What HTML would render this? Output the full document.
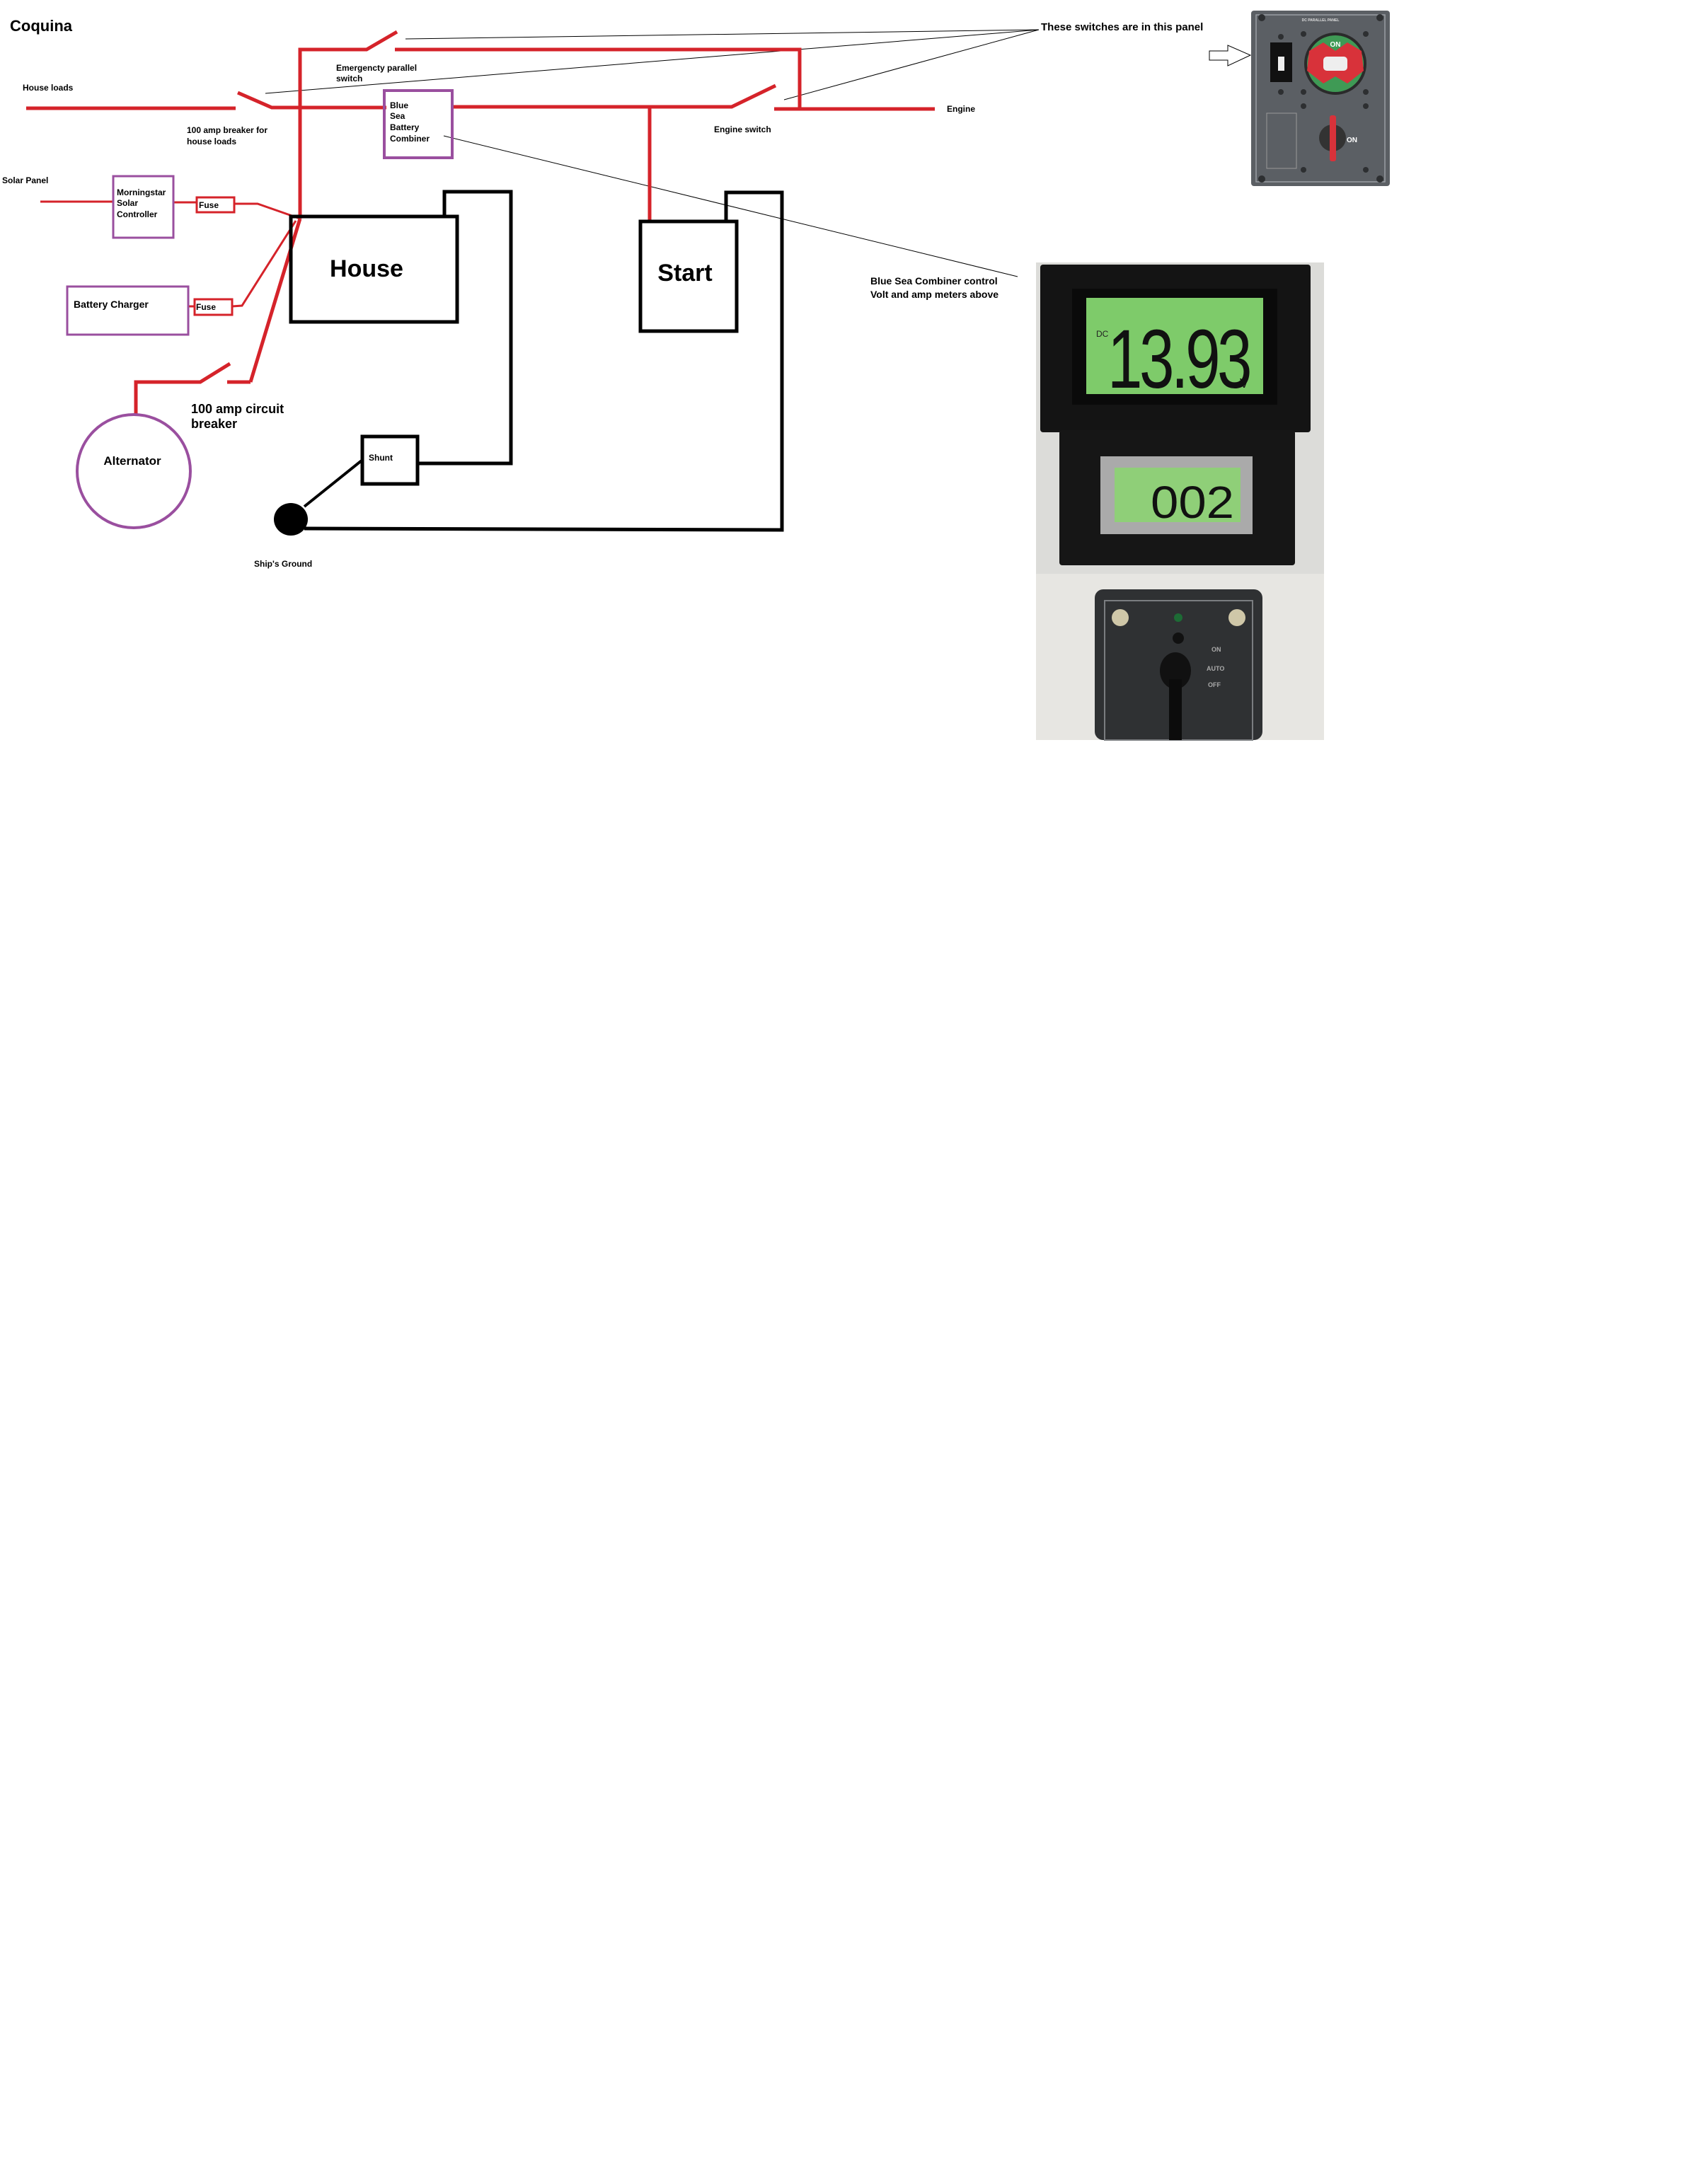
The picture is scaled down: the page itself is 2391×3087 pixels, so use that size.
<!DOCTYPE html>
<html><head><meta charset="utf-8"><style>
html,body{margin:0;padding:0;background:#fff;}
svg{display:block;}
text{font-family:"Liberation Sans",Arial,sans-serif;font-weight:bold;fill:#000;}
</style></head><body>
<svg width="2391" height="3087" viewBox="0 0 2391 3087" xmlns="http://www.w3.org/2000/svg">
<rect width="2391" height="3087" fill="#fff"/>
<text x="14" y="44" font-size="22">Coquina</text>

<!-- thin black pointer lines -->
<g stroke="#000" stroke-width="1" fill="none">
<line x1="573" y1="55" x2="1468" y2="42"/>
<line x1="375" y1="132" x2="1468" y2="42"/>
<line x1="1108" y1="141" x2="1468" y2="42"/>
<line x1="627" y1="192" x2="1438" y2="391"/>
</g>

<!-- red wires -->
<g stroke="#d5232a" stroke-width="5" fill="none" stroke-linecap="butt">
<polyline points="424,309 424,70 518,70 561,45"/>
<polyline points="558,70 1130,70 1130,154"/>
<line x1="37" y1="153" x2="333" y2="153"/>
<polyline points="336,131 384,152 546,152"/>
<polyline points="639,151 1034,151 1096,121"/>
<line x1="918" y1="151" x2="918" y2="313"/>
<line x1="1094" y1="154" x2="1321" y2="154"/>
<line x1="424" y1="309" x2="354" y2="540"/>
<polyline points="192,588 192,540 283,540 325,514"/>
<line x1="321" y1="540" x2="354" y2="540"/>
</g>
<g stroke="#d5232a" stroke-width="3" fill="none">
<line x1="57" y1="285" x2="160" y2="285"/>
<line x1="245" y1="286" x2="278" y2="286"/>
<polyline points="331,288 364,288 424,309"/>
<line x1="266" y1="433" x2="275" y2="433"/>
<polyline points="328,433 342,432 418,312"/>
<rect x="278" y="279" width="53" height="21"/>
<rect x="275" y="423" width="53" height="22"/>
</g>

<!-- purple boxes -->
<g stroke="#9a4f9f" stroke-width="4" fill="none">
<rect x="543" y="128" width="96" height="95"/>
<rect x="160" y="249" width="85" height="87" stroke-width="3"/>
<rect x="95" y="405" width="171" height="68" stroke-width="3"/>
<circle cx="189" cy="666" r="80"/>
</g>

<!-- black wiring -->
<g stroke="#000" stroke-width="5" fill="none">
<rect x="411" y="306" width="235" height="149"/>
<polyline points="628,306 628,271 722,271 722,655 590,655"/>
<rect x="512" y="617" width="78" height="67"/>
<rect x="905" y="313" width="136" height="155"/>
<polyline points="1026,313 1026,272 1105,272 1105,749 430,747"/>
<line x1="430" y1="716" x2="511" y2="651" stroke-width="4"/>
</g>
<ellipse cx="411" cy="734" rx="24" ry="23" fill="#000"/>

<!-- labels -->
<g font-size="12">
<text x="475" y="100">Emergencty parallel</text>
<text x="475" y="115">switch</text>
<text x="32" y="128">House loads</text>
<text x="264" y="188">100 amp breaker for</text>
<text x="264" y="204">house loads</text>
<text x="551" y="153">Blue</text>
<text x="551" y="168">Sea</text>
<text x="551" y="184">Battery</text>
<text x="551" y="200">Combiner</text>
<text x="1009" y="187">Engine switch</text>
<text x="1338" y="158">Engine</text>
<text x="3" y="259">Solar Panel</text>
<text x="165" y="276">Morningstar</text>
<text x="165" y="291">Solar</text>
<text x="165" y="307">Controller</text>
<text x="281" y="294">Fuse</text>
<text x="277" y="438">Fuse</text>
<text x="359" y="801">Ship's Ground</text>
<text x="521" y="651">Shunt</text>
</g>
<text x="104" y="435" font-size="14">Battery Charger</text>
<text x="518" y="391" font-size="34" text-anchor="middle">House</text>
<text x="968" y="397" font-size="34" text-anchor="middle">Start</text>
<text x="187" y="657" font-size="17" text-anchor="middle">Alternator</text>
<text x="270" y="584" font-size="18">100 amp circuit</text>
<text x="270" y="605" font-size="18">breaker</text>
<text x="1230" y="402" font-size="14">Blue Sea Combiner control</text>
<text x="1230" y="421" font-size="14">Volt and amp meters above</text>
<text x="1471" y="43" font-size="15">These switches are in this panel</text>

<!-- hollow arrow -->
<polygon points="1709,72 1735,72 1735,64 1767,78 1735,93 1735,85 1709,85" fill="#fff" stroke="#000" stroke-width="1"/>

<!-- Blue Sea panel -->
<rect x="1768" y="15" width="196" height="248" rx="4" fill="#5b5f64"/>
<rect x="1775" y="21" width="182" height="236" fill="none" stroke="#9a9ea3" stroke-width="1.5"/>
<text x="1866" y="30" font-size="5" fill="#ddd" style="fill:#ddd" text-anchor="middle">DC PARALLEL PANEL</text>
<rect x="1795" y="60" width="31" height="56" fill="#111"/>
<rect x="1806" y="80" width="9" height="20" fill="#eee"/>
<circle cx="1887" cy="90" r="44" fill="#2a2a2a"/>
<circle cx="1887" cy="90" r="40" fill="#3f9a55"/>
<path d="M1850,72 L1870,60 L1887,72 L1904,60 L1924,72 L1927,100 L1904,118 L1887,108 L1870,118 L1847,100 Z" fill="#d8323a"/>
<rect x="1870" y="80" width="34" height="20" rx="5" fill="#eee"/>
<text x="1887" y="66" font-size="10" style="fill:#fff" text-anchor="middle">ON</text>
<circle cx="1883" cy="195" r="19" fill="#333"/>
<rect x="1879" y="163" width="9" height="65" rx="3" fill="#d8323a"/>
<text x="1903" y="201" font-size="10" style="fill:#fff">ON</text>
<rect x="1790" y="160" width="42" height="78" fill="none" stroke="#999" stroke-width="1"/>
<g fill="#2d2f31">
<circle cx="1783" cy="25" r="5"/><circle cx="1950" cy="25" r="5"/>
<circle cx="1783" cy="253" r="5"/><circle cx="1950" cy="253" r="5"/>
<circle cx="1842" cy="48" r="4"/><circle cx="1930" cy="48" r="4"/>
<circle cx="1842" cy="130" r="4"/><circle cx="1930" cy="130" r="4"/>
<circle cx="1842" cy="150" r="4"/><circle cx="1930" cy="150" r="4"/>
<circle cx="1842" cy="240" r="4"/><circle cx="1930" cy="240" r="4"/>
<circle cx="1810" cy="130" r="4"/><circle cx="1810" cy="52" r="4"/>
</g>

<!-- meters photo -->
<rect x="1464" y="371" width="407" height="440" fill="#dcdcd9"/>
<rect x="1464" y="811" width="407" height="235" fill="#e7e6e2"/>
<rect x="1470" y="374" width="382" height="237" rx="4" fill="#141414"/>
<rect x="1515" y="408" width="290" height="164" fill="#0a0a0a"/>
<rect x="1535" y="421" width="250" height="136" fill="#7ecb6a"/>
<text x="1549" y="476" font-size="12" style="fill:#222;font-weight:normal">DC</text>
<text x="1565" y="548" font-size="118" style="fill:#111;font-weight:normal;letter-spacing:-6px" textLength="200" lengthAdjust="spacingAndGlyphs">13.93</text>
<text x="1752" y="548" font-size="18" style="fill:#111;font-weight:normal">V</text>
<rect x="1497" y="608" width="333" height="191" rx="4" fill="#161616"/>
<rect x="1555" y="645" width="215" height="110" fill="#aaa"/>
<rect x="1575" y="661" width="178" height="77" fill="#8fcf78"/>
<text x="1626" y="732" font-size="64" style="fill:#111;font-weight:normal" textLength="118" lengthAdjust="spacingAndGlyphs">002</text>
<rect x="1547" y="833" width="237" height="213" rx="12" fill="#2f3133"/>
<rect x="1561" y="849" width="209" height="197" fill="none" stroke="#7a7d80" stroke-width="2"/>
<circle cx="1583" cy="873" r="12" fill="#cfc7a8"/><circle cx="1748" cy="873" r="12" fill="#cfc7a8"/>
<circle cx="1665" cy="873" r="6" fill="#1d6b35"/>
<circle cx="1665" cy="902" r="8" fill="#111"/>
<ellipse cx="1661" cy="948" rx="22" ry="26" fill="#111"/>
<rect x="1652" y="960" width="18" height="86" fill="#0c0c0c"/>
<text x="1712" y="921" font-size="9" style="fill:#aaa">ON</text>
<text x="1705" y="948" font-size="9" style="fill:#aaa">AUTO</text>
<text x="1707" y="971" font-size="9" style="fill:#aaa">OFF</text>
</svg>
</body></html>
